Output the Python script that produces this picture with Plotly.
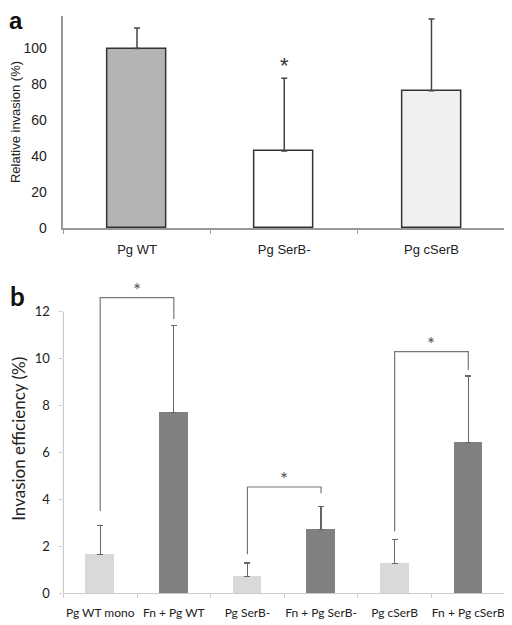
import plotly.graph_objects as go

# Panel a data
a_labels = ["Pg WT", "Pg SerB-", "Pg cSerB"]
a_values = [100, 43, 76.5]
a_errors = [11.5, 40.5, 40]
a_fills = ["#b4b4b4", "#ffffff", "#f0f0f0"]

# Panel b data
b_labels = ["Pg WT mono", "Fn + Pg WT", "Pg SerB-", "Fn + Pg SerB-", "Pg cSerB", "Fn + Pg cSerB"]
b_values = [1.66, 7.68, 0.70, 2.71, 1.26, 6.41]
b_errors = [1.23, 3.73, 0.58, 0.99, 1.01, 2.84]
b_fills = ["#d9d9d9", "#808080", "#d9d9d9", "#808080", "#d9d9d9", "#808080"]

# significance brackets: (left idx, right idx, top, left bottom, right bottom)
brackets = [(0, 1, 12.59, 3.5, 11.68), (2, 3, 4.52, 1.66, 4.25), (4, 5, 10.29, 2.64, 9.5)]

# page offset compensation
OX, OY = 8, 0
W, H = 512 - OX, 625 - OY


def px(x):
    return (x - OX) / W


def py(y):
    return 1 - (y - OY) / H


fig = go.Figure()

fig.add_trace(go.Bar(
    x=list(range(len(a_labels))), y=a_values, width=0.4,
    marker=dict(color=a_fills, line=dict(color="#333333", width=1.5)),
    error_y=dict(type="data", array=a_errors, arrayminus=[0] * 3, symmetric=False,
                 color="#444444", thickness=1.5, width=3),
    xaxis="x", yaxis="y", showlegend=False))

fig.add_trace(go.Bar(
    x=list(range(len(b_labels))), y=b_values, width=0.39,
    marker=dict(color=b_fills, line=dict(width=0)),
    error_y=dict(type="data", array=b_errors, arrayminus=[0] * 6, symmetric=False,
                 color="#666666", thickness=1.2, width=3),
    xaxis="x2", yaxis="y2", showlegend=False))

for (i, j, top, lb, rb) in brackets:
    fig.add_trace(go.Scatter(
        x=[i, i, j, j], y=[lb, top, top, rb], mode="lines",
        line=dict(color="#777777", width=1.2), xaxis="x2", yaxis="y2",
        showlegend=False, hoverinfo="skip"))
    fig.add_annotation(x=(i + j) / 2, y=top, xref="x2", yref="y2", text="*",
                       showarrow=False, yanchor="bottom", yshift=-5,
                       font=dict(family="Lato", size=19, color="#555555"))

fig.add_annotation(x=1, y=a_values[1] + a_errors[1], xref="x", yref="y", text="*",
                   showarrow=False, yanchor="bottom", yshift=-2,
                   font=dict(family="Liberation Sans", size=22, color="#333333"))

fig.add_annotation(x=px(10), y=py(13), xref="paper", yref="paper", text="<b>a</b>",
                   xanchor="center", yanchor="middle",
                   showarrow=False, font=dict(family="Liberation Sans", size=24, color="#111111"))
fig.add_annotation(x=px(12), y=py(292), xref="paper", yref="paper", text="<b>b</b>",
                   xanchor="center", yanchor="middle",
                   showarrow=False, font=dict(family="Lato", size=26, color="#111111"))

fig.update_layout(
    width=W, height=H, margin=dict(l=0, r=0, t=0, b=0),
    plot_bgcolor="white", paper_bgcolor="white", bargap=0,
    xaxis=dict(domain=[px(58), px(505)], range=[-0.5, 2.5],
               tickvals=list(range(3)), ticktext=a_labels, ticks="",
               ticklabelstandoff=9, ticklabeloverflow="allow",
               minor=dict(tickvals=[-0.5, 0.5, 1.5, 2.5], ticks="outside", ticklen=4, tickcolor="#999999"),
               showline=True, linecolor="#999999", linewidth=1.5, showgrid=False, zeroline=False,
               tickfont=dict(family="Liberation Sans", size=13, color="#222222"), anchor="y"),
    yaxis=dict(domain=[py(223), py(8)], range=[0, 118.2],
               tickvals=[0, 20, 40, 60, 80, 100], ticks="", ticklabelstandoff=12,
               showline=True, linecolor="#999999", linewidth=1.5, showgrid=False, zeroline=False,
               tickfont=dict(family="Liberation Sans", size=14, color="#222222"),
               title=dict(text="Relative invasion (%)", standoff=6,
                          font=dict(family="Liberation Sans", size=13, color="#222222")),
               anchor="x"),
    xaxis2=dict(domain=[px(58), px(505)], range=[-0.5, 5.5],
                tickvals=list(range(6)), ticktext=b_labels, ticks="",
                ticklabelstandoff=8, ticklabeloverflow="allow",
                minor=dict(tickvals=[-0.5, 0.5, 1.5, 2.5, 3.5, 4.5, 5.5], ticks="outside", ticklen=4, tickcolor="#cccccc"),
                showline=True, linecolor="#cccccc", linewidth=1.2, showgrid=False, zeroline=False,
                tickfont=dict(family="Lato", size=12, color="#222222"), anchor="y2"),
    yaxis2=dict(domain=[py(592.7), py(280)], range=[0, 13.15],
                tickvals=[0, 2, 4, 6, 8, 10, 12], ticks="outside", ticklen=3, tickcolor="#cccccc",
                ticklabelstandoff=7,
                showline=False, showgrid=False, zeroline=False,
                tickfont=dict(family="Lato", size=13, color="#222222"),
                title=dict(text="Invasion efficiency (%)", standoff=8,
                           font=dict(family="Lato", size=17, color="#222222")),
                anchor="x2"),
    shapes=[dict(type="line", xref="x2 domain", yref="y2", x0=0, x1=0, y0=0, y1=12,
                 line=dict(color="#cccccc", width=1.2))],
)

fig.write_html("out.html")
